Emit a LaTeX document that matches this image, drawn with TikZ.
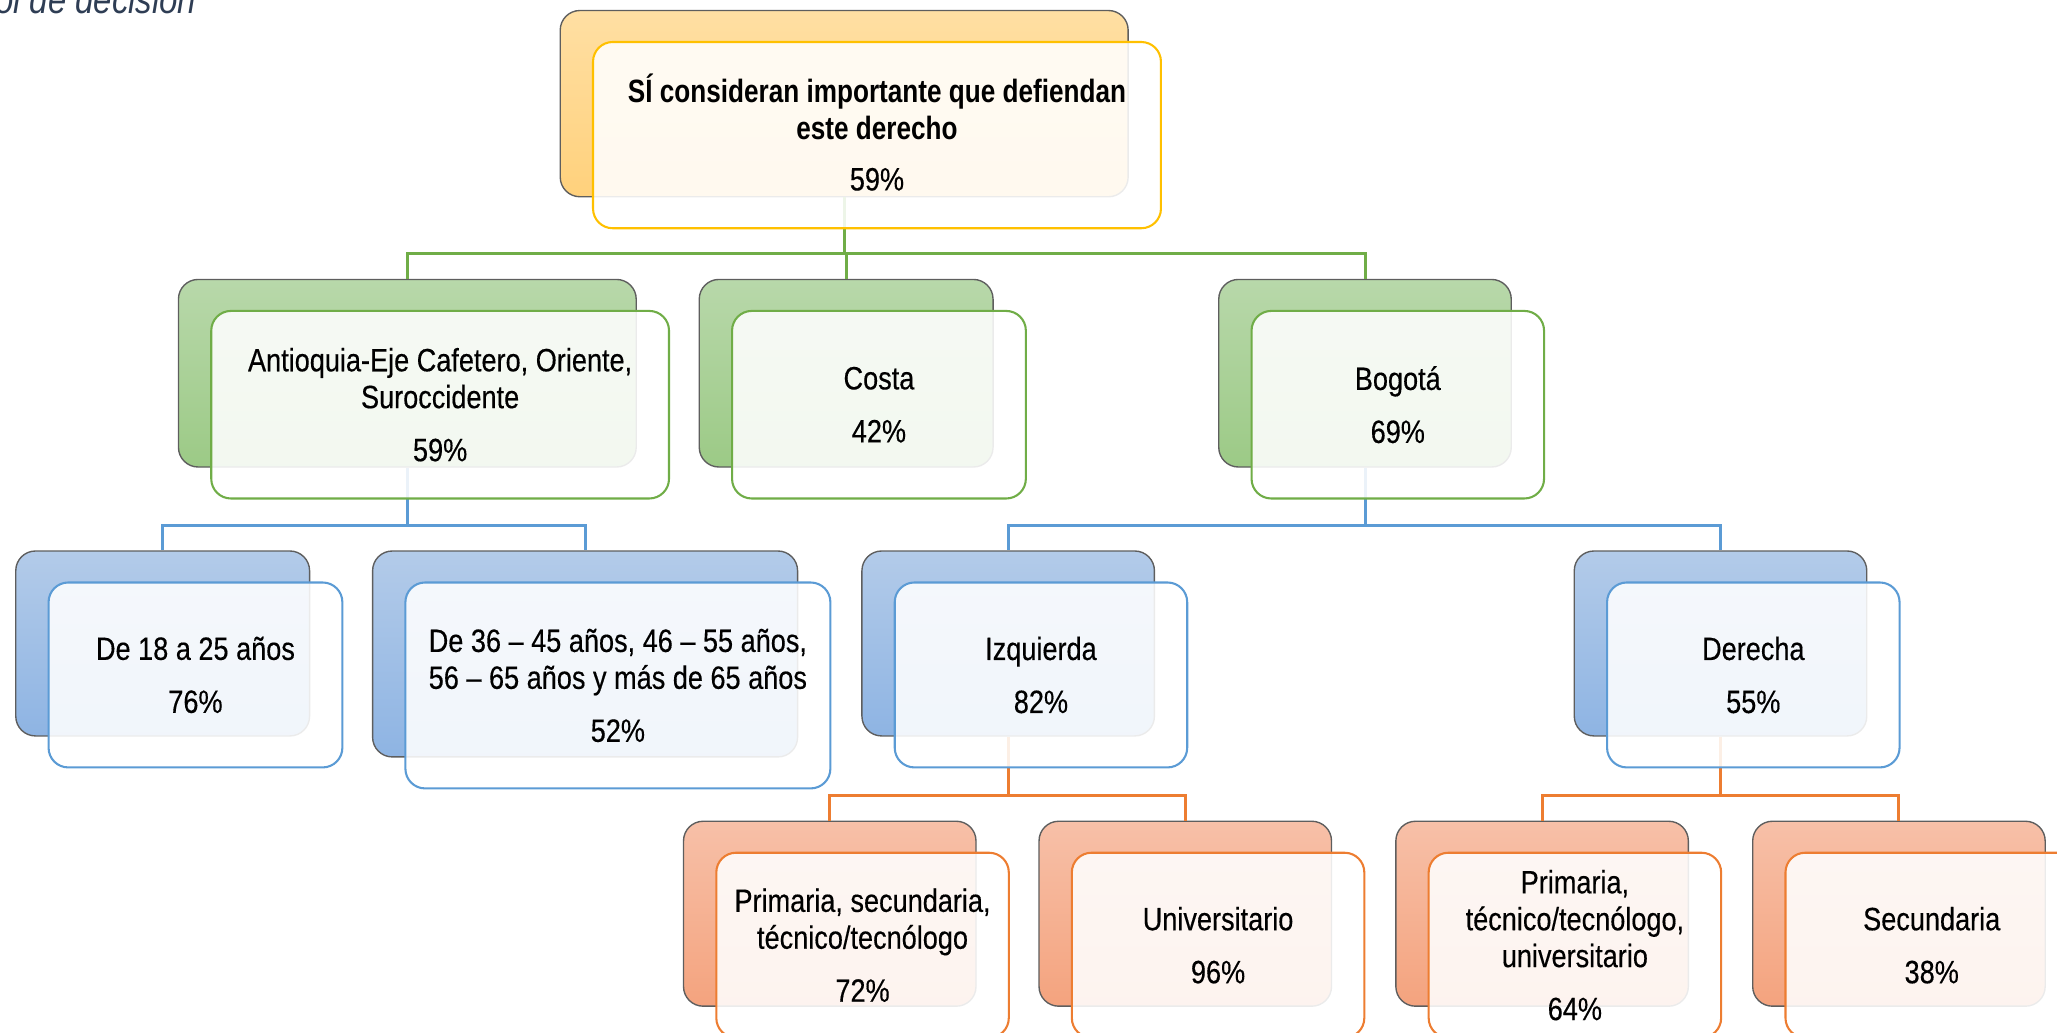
\documentclass[tikz,border=0pt]{standalone}
\usepackage{fontspec}
\setmainfont[FakeStretch=0.84,
  UprightFeatures={FakeBold=0.35},
  BoldFeatures={FakeStretch=0.81},
  ItalicFeatures={FakeStretch=0.84}]{Liberation Sans}
\definecolor{backline}{HTML}{5E5E5E}
\definecolor{yTop}{HTML}{FFDFA3}
\definecolor{yBot}{HTML}{FFD17C}
\definecolor{yLine}{HTML}{FFC000}
\definecolor{gTop}{HTML}{B8D8AA}
\definecolor{gBot}{HTML}{9CCA86}
\definecolor{gLine}{HTML}{70AD47}
\definecolor{bTop}{HTML}{B3CBE9}
\definecolor{bBot}{HTML}{8EB4E3}
\definecolor{bLine}{HTML}{5B9BD5}
\definecolor{oTop}{HTML}{F7C0A8}
\definecolor{oBot}{HTML}{F4A37E}
\definecolor{oLine}{HTML}{ED7D31}
\definecolor{titleC}{HTML}{2E3D54}
\tikzset{
  bk/.style={rounded corners=0.3cm, draw=backline, line width=0.6pt, inner sep=0pt},
  bkY/.style={bk, top color=yTop, bottom color=yBot},
  bkG/.style={bk, top color=gTop, bottom color=gBot},
  bkB/.style={bk, top color=bTop, bottom color=bBot},
  bkO/.style={bk, top color=oTop, bottom color=oBot},
  fr/.style={rounded corners=0.3cm, fill=white, fill opacity=0.88, text opacity=1,
    line width=0.9pt, align=center, inner sep=0pt,
    font=\fontsize{14}{16}\selectfont},
  frY/.style={fr, draw=yLine},
  frG/.style={fr, draw=gLine},
  frB/.style={fr, draw=bLine},
  frO/.style={fr, draw=oLine},
  conG/.style={draw=gLine, line width=1.3pt},
  conB/.style={draw=bLine, line width=1.3pt},
  conO/.style={draw=oLine, line width=1.3pt},
  sz/.style 2 args={minimum width=#1, minimum height=#2}
}
\begin{document}
\begin{tikzpicture}[x=0.02cm, y=-0.02cm]
\useasboundingbox (0,0) rectangle (1568,787);
\clip (0,0) rectangle (1568,787);

% title fragment
\node[anchor=base east, text=titleC, inner sep=0pt,
  font=\fontsize{17}{20}\selectfont\itshape] (title) at (150,10.5) {ol de decisión};

% back boxes
\node[bkY, sz={8.66cm}{2.84cm}] (t0) at (643.5,79) {};
\node[bkG, sz={6.98cm}{2.86cm}] (g1) at (310.5,284.5) {};
\node[bkG, sz={4.48cm}{2.86cm}] (g2) at (645,284.5) {};
\node[bkG, sz={4.46cm}{2.86cm}] (g3) at (1040.5,284.5) {};
\node[bkB, sz={4.48cm}{2.82cm}] (b1) at (124,490.5) {};
\node[bkB, sz={6.48cm}{3.14cm}] (b2) at (446,498.5) {};
\node[bkB, sz={4.46cm}{2.82cm}] (b3) at (768.5,490.5) {};
\node[bkB, sz={4.46cm}{2.82cm}] (b4) at (1311.5,490.5) {};
\node[bkO, sz={4.46cm}{2.82cm}] (o1) at (632.5,696.5) {};
\node[bkO, sz={4.46cm}{2.82cm}] (o2) at (903.5,696.5) {};
\node[bkO, sz={4.46cm}{2.82cm}] (o3) at (1175.5,696.5) {};
\node[bkO, sz={4.46cm}{2.82cm}] (o4) at (1447.5,696.5) {};

% connectors
\draw[conG] (t0.south) -- ++(0,43) coordinate (busG) -| (g1.north);
\draw[conG] (busG) -| (g2.north);
\draw[conG] (busG) -| (g3.north);
\draw[conB] (g1.south) -- ++(0,44) coordinate (busB1) -| (b1.north);
\draw[conB] (busB1) -| (b2.north);
\draw[conB] (g3.south) -- ++(0,44) coordinate (busB2) -| (b3.north);
\draw[conB] (busB2) -| (b4.north);
\draw[conO] (b3.south) -- ++(0,45) coordinate (busO1) -| (o1.north);
\draw[conO] (busO1) -| (o2.north);
\draw[conO] (b4.south) -- ++(0,45) coordinate (busO2) -| (o3.north);
\draw[conO] (busO2) -| (o4.north);

% front boxes
\node[frY, sz={8.66cm}{2.84cm}] (t0f) at (668.5,103) {};
\node[align=center, inner sep=0pt, font=\fontsize{14}{16}\selectfont] (t0t) at (668.5,101)
  {\textbf{SÍ consideran importante que defiendan}\\\textbf{este derecho}\\[6pt]59\%};
\node[frG, sz={6.98cm}{2.86cm}] (g1f) at (335.5,308.5)
  {Antioquia-Eje Cafetero, Oriente,\\Suroccidente\\[7pt]59\%};
\node[frG, sz={4.48cm}{2.86cm}] (g2f) at (670,308.5) {Costa\\[7pt]42\%};
\node[frG, sz={4.46cm}{2.86cm}] (g3f) at (1065.5,308.5) {Bogotá\\[7pt]69\%};
\node[frB, sz={4.48cm}{2.82cm}] (b1f) at (149,514.5) {De 18 a 25 años\\[7pt]76\%};
\node[frB, sz={6.48cm}{3.14cm}] (b2f) at (471,522.5)
  {De 36 – 45 años, 46 – 55 años,\\56 – 65 años y más de 65 años\\[7pt]52\%};
\node[frB, sz={4.46cm}{2.82cm}] (b3f) at (793.5,514.5) {Izquierda\\[7pt]82\%};
\node[frB, sz={4.46cm}{2.82cm}] (b4f) at (1336.5,514.5) {Derecha\\[7pt]55\%};
\node[frO, sz={4.46cm}{2.82cm}] (o1f) at (657.5,720.5)
  {Primaria, secundaria,\\técnico/tecnólogo\\[7pt]72\%};
\node[frO, sz={4.46cm}{2.82cm}] (o2f) at (928.5,720.5) {Universitario\\[7pt]96\%};
\node[frO, sz={4.46cm}{2.82cm}] (o3f) at (1200.5,720.5)
  {Primaria,\\técnico/tecnólogo,\\universitario\\[7pt]64\%};
\node[frO, sz={4.46cm}{2.82cm}] (o4f) at (1472.5,720.5) {Secundaria\\[7pt]38\%};
\end{tikzpicture}
\end{document}
